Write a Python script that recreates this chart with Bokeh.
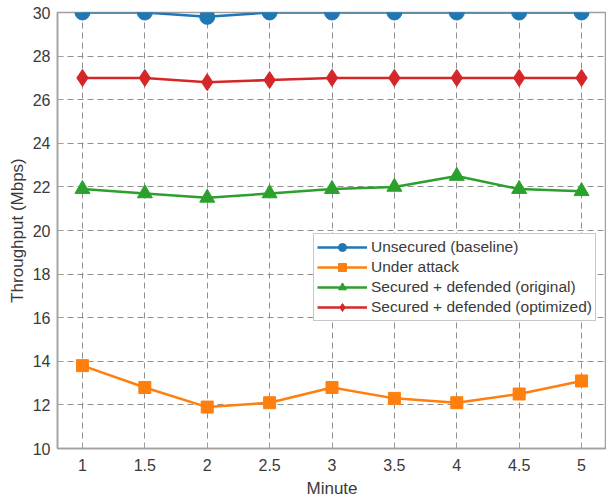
from bokeh.plotting import figure
from bokeh.models import FixedTicker, Legend, LegendItem, Range1d
from bokeh.embed import file_html
from bokeh.resources import INLINE

minutes = [1, 1.5, 2, 2.5, 3, 3.5, 4, 4.5, 5]
tick_labels = ["1", "1.5", "2", "2.5", "3", "3.5", "4", "4.5", "5"]
y_ticks = [10, 12, 14, 16, 18, 20, 22, 24, 26, 28, 30]

unsecured = [30, 30, 29.8, 30, 30, 30, 30, 30, 30]
under_attack = [13.8, 12.8, 11.9, 12.1, 12.8, 12.3, 12.1, 12.5, 13.1]
sec_original = [21.9, 21.7, 21.5, 21.7, 21.9, 22.0, 22.5, 21.9, 21.8]
sec_optimized = [27, 27, 26.8, 26.9, 27, 27, 27, 27, 27]

names = ["Unsecured (baseline)", "Under attack",
         "Secured + defended (original)", "Secured + defended (optimized)"]
colors = ["#1f77b4", "#ff7f0e", "#2ca02c", "#d62728"]

FONT = "Liberation Sans"
TXT = "#3a3a3a"

p = figure(width=606, height=503, output_backend="svg", toolbar_location=None,
           x_range=Range1d(0.8, 5.2), y_range=Range1d(10, 30),
           min_border_left=57, min_border_right=0, min_border_top=12, min_border_bottom=55)
p.background_fill_color = "white"
p.border_fill_color = "white"
p.outline_line_color = "#a0a0a0"
p.outline_line_width = 1.5

p.xaxis.ticker = FixedTicker(ticks=minutes)
p.xaxis.major_label_overrides = {m: t for m, t in zip(minutes, tick_labels)}
p.yaxis.ticker = FixedTicker(ticks=y_ticks)

for ax in (p.xaxis, p.yaxis):
    ax.axis_line_color = "#a0a0a0"
    ax.axis_line_width = 1.5
    ax.major_tick_line_color = "#a0a0a0"
    ax.major_tick_in = 5
    ax.major_tick_out = 0
    ax.minor_tick_line_color = None
    ax.major_label_text_font = FONT
    ax.major_label_text_font_size = "16px"
    ax.major_label_text_color = TXT
    ax.axis_label_text_font = FONT
    ax.axis_label_text_font_size = "17px"
    ax.axis_label_text_font_style = "normal"
    ax.axis_label_text_color = TXT

p.xaxis.axis_label = "Minute"
p.yaxis.axis_label = "Throughput (Mbps)"
p.xaxis.major_label_standoff = 10
p.xaxis.axis_label_standoff = 5
p.yaxis.major_label_standoff = 7
p.yaxis.axis_label_standoff = 3

for g in (p.xgrid, p.ygrid):
    g.grid_line_color = "#909090"
    g.grid_line_dash = "6 4"
    g.grid_line_width = 1

items = []
series = [unsecured, under_attack, sec_original, sec_optimized]
markers = ["circle", "square", "triangle", "diamond"]
sizes = [15, 12, 15, 17]
for name, col, ys, mk, sz in zip(names, colors, series, markers, sizes):
    l = p.line(minutes, ys, line_color=col, line_width=2.5)
    s = p.scatter(minutes, ys, marker=mk, size=sz, fill_color=col, line_color=col)
    items.append(LegendItem(label=name, renderers=[l, s]))

legend = Legend(items=items, location=(256, 127))
legend.label_text_font = FONT
legend.label_text_font_size = "15.5px"
legend.label_text_color = TXT
legend.glyph_width = 50
legend.glyph_height = 20
legend.label_height = 20
legend.label_standoff = 4
legend.spacing = 0
legend.padding = 3
legend.margin = 0
legend.border_line_color = "#909090"
legend.border_line_width = 1.5
legend.background_fill_alpha = 1.0
p.add_layout(legend, "center")

open("out.html", "w").write(file_html(p, INLINE))
